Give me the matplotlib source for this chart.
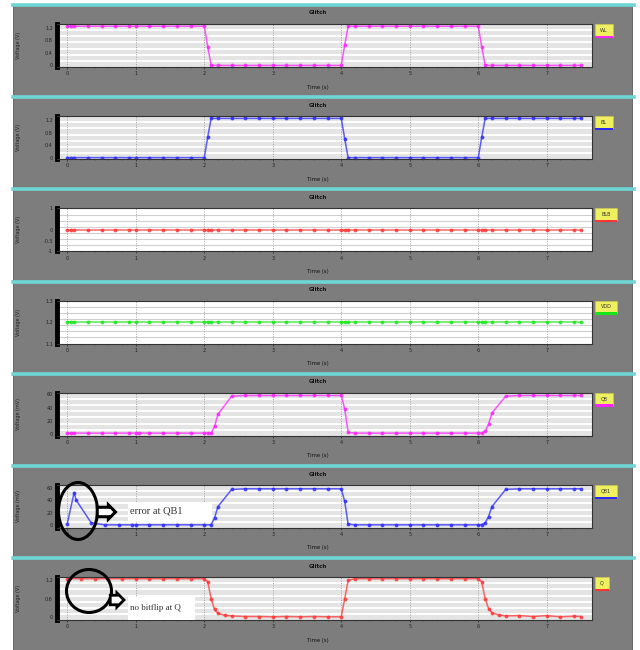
import matplotlib
matplotlib.use("Agg")
import matplotlib.pyplot as plt
from matplotlib.patches import Rectangle, Ellipse
from matplotlib.lines import Line2D

W, H = 640, 650

# ---- data ----
t_step = [0, 0.05, 0.1, 0.3, 0.5, 0.7, 0.9, 1.0, 1.2, 1.4, 1.6, 1.8, 2.0, 2.05,
          2.1, 2.2, 2.4, 2.6, 2.8, 3.0, 3.2, 3.4, 3.6, 3.8, 4.0, 4.05,
          4.1, 4.2, 4.4, 4.6, 4.8, 5.0, 5.2, 5.4, 5.6, 5.8, 6.0, 6.05,
          6.1, 6.2, 6.4, 6.6, 6.8, 7.0, 7.2, 7.4, 7.5]
wl = [1.25, 1.25, 1.25, 1.25, 1.25, 1.25, 1.25, 1.25, 1.25, 1.25, 1.25, 1.25, 1.25, 0.6,
      0, 0, 0, 0, 0, 0, 0, 0, 0, 0, 0, 0.65,
      1.25, 1.25, 1.25, 1.25, 1.25, 1.25, 1.25, 1.25, 1.25, 1.25, 1.25, 0.6,
      0, 0, 0, 0, 0, 0, 0, 0, 0]
bl = [0, 0, 0, 0, 0, 0, 0, 0, 0, 0, 0, 0, 0, 0.65,
      1.25, 1.25, 1.25, 1.25, 1.25, 1.25, 1.25, 1.25, 1.25, 1.25, 1.25, 0.6,
      0, 0, 0, 0, 0, 0, 0, 0, 0, 0, 0, 0.65,
      1.25, 1.25, 1.25, 1.25, 1.25, 1.25, 1.25, 1.25, 1.25]
blb = [0, 0, 0, 0, 0, 0, 0, 0, 0, 0, 0, 0, 0, 0,
       0, 0, 0, 0, 0, 0, 0, 0, 0, 0, 0, 0,
       0, 0, 0, 0, 0, 0, 0, 0, 0, 0, 0, 0,
       0, 0, 0, 0, 0, 0, 0, 0, 0]
vdd = [1.2, 1.2, 1.2, 1.2, 1.2, 1.2, 1.2, 1.2, 1.2, 1.2, 1.2, 1.2, 1.2, 1.2,
       1.2, 1.2, 1.2, 1.2, 1.2, 1.2, 1.2, 1.2, 1.2, 1.2, 1.2, 1.2,
       1.2, 1.2, 1.2, 1.2, 1.2, 1.2, 1.2, 1.2, 1.2, 1.2, 1.2, 1.2,
       1.2, 1.2, 1.2, 1.2, 1.2, 1.2, 1.2, 1.2, 1.2]

t_qb = [0, 0.05, 0.1, 0.3, 0.5, 0.7, 0.9, 1.0, 1.05, 1.2, 1.4, 1.6, 1.8, 2.0, 2.05, 2.1,
        2.15, 2.2, 2.4,
        2.6, 2.8, 3.0, 3.2, 3.4, 3.6, 3.8, 4.0,
        4.05, 4.1,
        4.2, 4.4, 4.6, 4.8, 5.0, 5.2, 5.4, 5.6, 5.8, 6.0, 6.05,
        6.1, 6.15, 6.2, 6.4,
        6.6, 6.8, 7.0, 7.2, 7.4, 7.5]
qb = [2, 2, 2, 2, 2, 2, 2, 2, 2, 2, 2, 2, 2, 2, 2, 2,
      12, 30, 57,
      58, 58, 58, 58, 58, 58, 58, 58,
      38, 3,
      2, 2, 2, 2, 2, 2, 2, 2, 2, 2, 2,
      5, 15, 32, 57,
      58, 58, 58, 58, 58, 58]

t_qb1 = [0, 0.1, 0.13, 0.35,
         0.55, 0.75, 0.95, 1.0, 1.2, 1.4, 1.6, 1.8, 2.0, 2.1,
         2.15, 2.2, 2.4,
         2.6, 2.8, 3.0, 3.2, 3.4, 3.6, 3.8, 4.0,
         4.05, 4.1,
         4.2, 4.4, 4.6, 4.8, 5.0, 5.2, 5.4, 5.6, 5.8, 6.0, 6.05,
         6.1, 6.15, 6.2, 6.4,
         6.6, 6.8, 7.0, 7.2, 7.4, 7.5]
qb1 = [3, 52, 40, 4,
       1, 1, 1, 1, 1, 1, 1, 1, 1, 1,
       12, 30, 57,
       58, 58, 58, 58, 58, 58, 58, 58,
       38, 2,
       1, 1, 1, 1, 1, 1, 1, 1, 1, 1, 1,
       4, 14, 30, 57,
       58, 58, 58, 58, 58, 58]

t_q = [0, 0.2, 0.4, 0.6, 0.8, 1.0, 1.2, 1.4, 1.6, 1.8, 2.0,
       2.05, 2.1, 2.15, 2.2, 2.3, 2.4, 2.6,
       2.8, 3.0, 3.2, 3.4, 3.6, 3.8, 4.0,
       4.05, 4.1,
       4.2, 4.4, 4.6, 4.8, 5.0, 5.2, 5.4, 5.6, 5.8, 6.0,
       6.05, 6.1, 6.15, 6.2, 6.3, 6.4, 6.6, 6.8, 7.0, 7.2, 7.4, 7.5]
q = [1.25, 1.25, 1.25, 1.25, 1.25, 1.25, 1.25, 1.25, 1.25, 1.25, 1.25,
     1.15, 0.6, 0.25, 0.12, 0.06, 0.04, 0.02,
     0.02, 0.01, 0.02, 0.01, 0.02, 0.01, 0.01,
     0.6, 1.2,
     1.25, 1.25, 1.25, 1.25, 1.25, 1.25, 1.25, 1.25, 1.25, 1.25,
     1.15, 0.6, 0.28, 0.14, 0.07, 0.04, 0.05, 0.02, 0.05, 0.01, 0.03, 0.02]

x_ticks = [0, 1, 2, 3, 4, 5, 6, 7]

# (t, values, colour, tag, ylim, yticks, ylabel, striped background)
panels = [
    (t_step, wl, '#ff22ff', 'WL', (-0.05, 1.32), [0, 0.4, 0.8, 1.2], 'Voltage (V)', True),
    (t_step, bl, '#2a2aff', 'BL', (-0.05, 1.32), [0, 0.4, 0.8, 1.2], 'Voltage (V)', True),
    (t_step, blb, '#ff3535', 'BLB', (-1.0, 1.0), [-1.0, -0.5, 0.0, 1.0], 'Voltage (V)', False),
    (t_step, vdd, '#19e619', 'VDD', (1.1, 1.3), [1.1, 1.2, 1.3], 'Voltage (V)', False),
    (t_qb, qb, '#ff22ff', 'QB', (-2, 62), [0, 20, 40, 60], 'Voltage (mV)', True),
    (t_qb1, qb1, '#2a2aff', 'QB1', (-4, 64), [0, 20, 40, 60], 'Voltage (mV)', True),
    (t_q, q, '#ff3535', 'Q', (-0.1, 1.3), [0.0, 0.6, 1.2], 'Voltage (V)', True),
]

fig = plt.figure(figsize=(W / 100, H / 100), dpi=100)
fig.patch.set_facecolor('white')


def fx(x):
    return x / W


def fy(y):
    return 1 - y / H


step = 92.2
for i, (t, v, col, tag, ylim, yt, ylab, striped) in enumerate(panels):
    T = 5 + i * step
    # grey panel and cyan separator
    fig.add_artist(Rectangle((fx(13), fy(T + step)), (632 - 13) / W, step / H,
                             transform=fig.transFigure, fc='#7d7d7d', ec='#5a5a5a', lw=0.6, zorder=0))
    fig.add_artist(Line2D([fx(13), fx(634)], [fy(T), fy(T)], transform=fig.transFigure,
                          color='#6fd6d6', lw=2.6, zorder=1))

    ax = fig.add_axes([fx(57), fy(T + 62), (592 - 57) / W, 43 / H])
    ax.set_facecolor('#e4e4e4' if striped else 'white')
    ax.plot(t, v, color=col, lw=1.1, alpha=0.75, marker='o', ms=1.8, mec=col, mfc=col)
    ax.set_xlim(-0.15, 7.66)
    ax.set_ylim(*ylim)
    ax.set_xticks(x_ticks)
    ax.set_xticks([k * 0.2 for k in range(0, 39)], minor=True)
    ax.set_xticklabels([str(k) for k in x_ticks])
    ax.set_yticks(yt)
    ax.set_yticklabels([('%g' % y) for y in yt])
    ax.tick_params(axis='both', labelsize=3.5, length=1.5, width=0.5, pad=1.5, colors='#222222')
    ax.tick_params(axis='x', which='minor', length=1.0, width=0.4, colors='#333333')

    # horizontal stripes
    lo, hi = ylim
    n = 7
    for k in range(1, n):
        yy = lo + (hi - lo) * k / n
        ax.axhline(yy, color='white' if striped else '#cfcfcf', lw=1.4 if striped else 0.8, zorder=0.5)
    for xt in x_ticks:
        ax.axvline(xt, color='#888888', lw=0.5, ls=(0, (1.5, 2)), zorder=0.6)

    for s in ['top', 'right', 'bottom']:
        ax.spines[s].set_color('#333333')
        ax.spines[s].set_linewidth(0.8)
    ax.spines['left'].set_color('black')
    ax.spines['left'].set_linewidth(3.5)

    ax.set_ylabel(ylab, fontsize=3.5, color='#222222')
    ax.yaxis.set_label_coords(-0.068, 0.5)
    fig.text(fx(318), fy(T + 8), 'Glitch', fontsize=4, fontweight='bold', ha='center', va='center',
             color='#111111')
    fig.text(fx(318), fy(T + 82), 'Time (s)', fontsize=3.8, ha='center', va='center', color='#111111')

    # little yellow legend tag with a coloured strip under it
    tw = 10 + 4 * len(tag)
    fig.add_artist(Rectangle((fx(595), fy(T + 31)), tw / W, 12 / H, transform=fig.transFigure,
                             fc='#eef060', ec='#c8c850', lw=0.5, zorder=3))
    fig.add_artist(Rectangle((fx(595), fy(T + 33)), tw / W, 2.5 / H, transform=fig.transFigure,
                             fc=col, ec='none', zorder=3))
    fig.text(fx(595 + tw / 2), fy(T + 25), tag, fontsize=3.5, ha='center', va='center',
             color='#333333', zorder=4)

# annotation on QB1 panel
fig.add_artist(Ellipse((fx(78), fy(511)), 39 / W, 57 / H, transform=fig.transFigure,
                       fill=False, ec='black', lw=2.2, zorder=5))
fig.add_artist(Rectangle((fx(128), fy(521)), 84 / W, 19 / H, transform=fig.transFigure,
                         fc='white', ec='none', zorder=4))
fig.text(fx(99), fy(512), '     ', fontsize=5, ha='left', va='center', zorder=5,
         bbox=dict(boxstyle='rarrow,pad=0.25', fc='white', ec='black', lw=2.2))
fig.text(fx(130), fy(511), 'error at QB1', fontsize=7.5, family='Liberation Serif',
         ha='left', va='center', color='#333333', zorder=5)

# annotation on Q panel
fig.add_artist(Ellipse((fx(89), fy(591)), 45 / W, 43 / H, transform=fig.transFigure,
                       fill=False, ec='black', lw=2.2, zorder=5))
fig.text(fx(112), fy(600), '   ', fontsize=5, ha='left', va='center', zorder=5,
         bbox=dict(boxstyle='rarrow,pad=0.25', fc='white', ec='black', lw=2.0))
fig.add_artist(Rectangle((fx(128), fy(620)), 67 / W, 23 / H, transform=fig.transFigure,
                         fc='white', ec='none', zorder=4))
fig.text(fx(130), fy(608), 'no bitflip at Q', fontsize=6.5, family='Liberation Serif',
         ha='left', va='center', color='#333333', zorder=5)

fig.savefig('out.png', dpi=100)
